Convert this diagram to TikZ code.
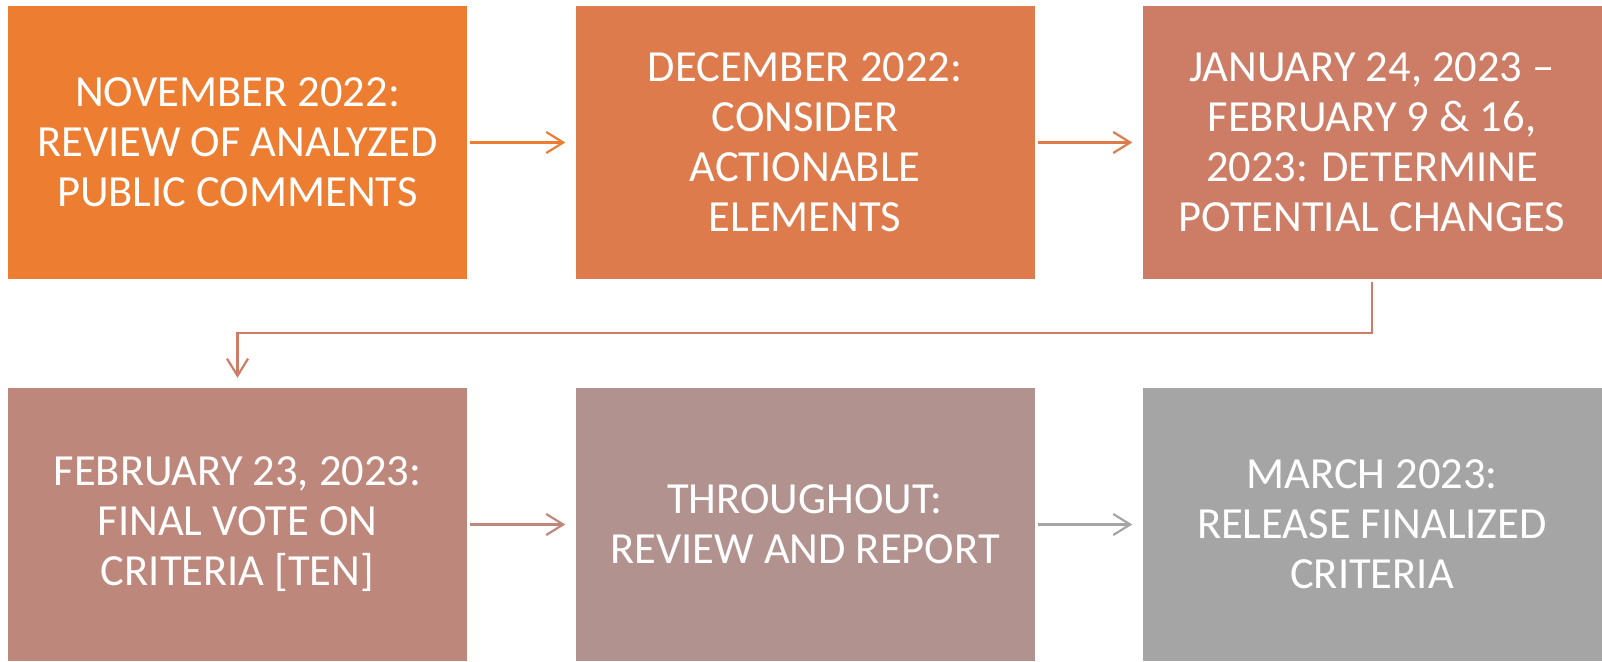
\documentclass[tikz,border=0pt]{standalone}
\usepackage{fontspec}
\setmainfont{Carlito}
\usetikzlibrary{arrows.meta}

\definecolor{stepA}{HTML}{ED7D31}
\definecolor{stepB}{HTML}{DE7B4C}
\definecolor{stepC}{HTML}{CD7C65}
\definecolor{stepD}{HTML}{BE877B}
\definecolor{stepE}{HTML}{B1928F}
\definecolor{stepF}{HTML}{A5A5A5}

\begin{document}
\begin{tikzpicture}
[x=1pt,y=1pt,
  boxDecorate/.style={shape=rectangle,minimum width=459pt,minimum height=273pt,
    inner sep=0pt,text=white,align=center,
    font=\fontsize{44.5pt}{50pt}\selectfont},
  lineDecorate/.style={-{Straight Barb[length=17pt,width=21pt,line width=2.2pt]},line width=2.2pt,
    shorten <=3pt,shorten >=10pt}]
\useasboundingbox (0,0) rectangle (1602,-661);
%% nodes or vertices
\foreach \nodename/\x/\y/\fillcol/\labeltext in {
  b1/237.5/-142.5/stepA/{NOVEMBER 2022:\\REVIEW OF ANALYZED\\PUBLIC COMMENTS},
  b2/805/-142.5/stepB/{DECEMBER 2022:\\CONSIDER\\ACTIONABLE\\ELEMENTS},
  b3/1372/-142.5/stepC/{JANUARY 24, 2023 –\\FEBRUARY 9 \& 16,\\2023: DETERMINE\\POTENTIAL CHANGES},
  b4/237.5/-524.5/stepD/{FEBRUARY 23, 2023:\\FINAL VOTE ON\\CRITERIA [TEN]},
  b5/805/-524.5/stepE/{THROUGHOUT:\\REVIEW AND REPORT},
  b6/1372/-524.5/stepF/{MARCH 2023:\\RELEASE FINALIZED\\CRITERIA}}
{
  \node (\nodename) at (\x,\y) [boxDecorate,fill=\fillcol] {\labeltext};
}
%% edges or lines
\foreach \startnode/\endnode/\linecol in {
  b1/b2/stepA, b2/b3/stepB, b4/b5/stepD, b5/b6/stepF}
{
  \draw[lineDecorate,draw=\linecol] (\startnode) -- (\endnode);
}
\draw[lineDecorate,draw=stepC] (b3.south) -- ++(0,-54) -| (b4.north);
\end{tikzpicture}
\end{document}
